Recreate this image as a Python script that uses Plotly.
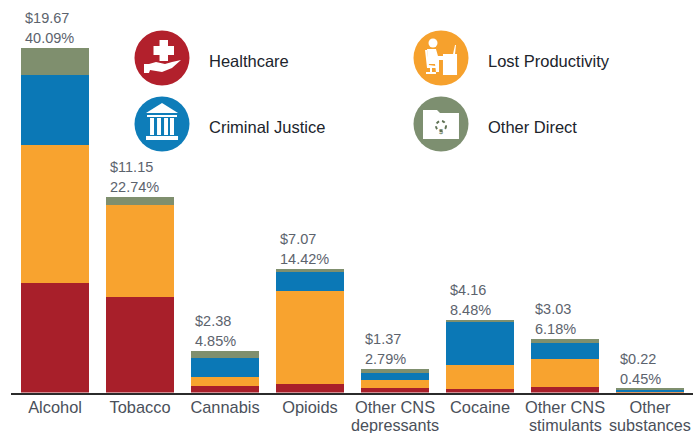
import plotly.graph_objects as go

# Societal cost by substance, billions of dollars, split by cost type
substances = ["Alcohol", "Tobacco", "Cannabis", "Opioids", "Other CNS depressants",
              "Cocaine", "Other CNS stimulants", "Other substances"]
tick_labels = ["Alcohol", "Tobacco", "Cannabis", "Opioids", "Other CNS",
               "Cocaine", "Other CNS", "Other"]
tick_second_lines = ["", "", "", "", "depressants", "", "stimulants", "substances"]
healthcare = [6.26, 5.44, 0.37, 0.49, 0.24, 0.18, 0.33, 0.02]
lost_productivity = [7.89, 5.27, 0.50, 5.31, 0.47, 1.39, 1.57, 0.03]
criminal_justice = [4.00, 0.00, 1.09, 1.10, 0.38, 2.49, 0.95, 0.12]
other_direct = [1.52, 0.44, 0.42, 0.17, 0.28, 0.10, 0.18, 0.05]
total_labels = ["$19.67", "$11.15", "$2.38", "$7.07", "$1.37", "$4.16", "$3.03", "$0.22"]
share_labels = ["40.09%", "22.74%", "4.85%", "14.42%", "2.79%", "8.48%", "6.18%", "0.45%"]
totals = [19.67, 11.15, 2.38, 7.07, 1.37, 4.16, 3.03, 0.22]

RED, ORANGE, BLUE, GREEN = "#A81F2A", "#F8A32F", "#0B78B6", "#7F8F6E"
W, H = 693, 433
FONT = "Liberation Sans, Arial, sans-serif"
LABEL_GREY = "#5C636D"
TICK_GREY = "#4A505A"

fig = go.Figure()
for name, values, color in [("Healthcare", healthcare, RED),
                            ("Lost Productivity", lost_productivity, ORANGE),
                            ("Criminal Justice", criminal_justice, BLUE),
                            ("Other Direct", other_direct, GREEN)]:
    fig.add_bar(x=substances, y=values, name=name, marker=dict(color=color, line_width=0),
                width=0.8, showlegend=False, hoverinfo="x+y+name")


# Helpers for the key icons, given in page pixels
def px_x(x):
    return x / W


def px_y(y):
    return 1 - y / H


annotations = []
for i, cat in enumerate(substances):
    for text, lift in ((share_labels[i], 0), (total_labels[i], 20)):
        annotations.append(dict(x=i - 0.4, y=totals[i], xref="x", yref="y", text=text, showarrow=False,
                                xanchor="left", yanchor="bottom", xshift=2, yshift=lift,
                                font=dict(family=FONT, size=14.5, color=LABEL_GREY)))
    # Second lines of the long category names sit closer than the axis line spacing allows
    if tick_second_lines[i]:
        annotations.append(dict(x=cat, y=px_y(424.5), xref="x", yref="paper", text=tick_second_lines[i],
                                showarrow=False, yanchor="middle",
                                font=dict(family=FONT, size=16.2, color=TICK_GREY)))


def poly(points, fill="white"):
    path = "M" + " L".join(f"{px_x(x):.4f},{px_y(y):.4f}" for x, y in points) + " Z"
    return dict(type="path", xref="paper", yref="paper", path=path,
                fillcolor=fill, line_width=0, layer="above")


def disc(cx, cy, r, fill="white", line=None, dash="solid", width=1.2):
    return dict(type="circle", xref="paper", yref="paper", x0=px_x(cx - r), x1=px_x(cx + r),
                y0=px_y(cy + r), y1=px_y(cy - r), fillcolor=fill, layer="above",
                line=dict(width=width if line else 0, color=line or fill, dash=dash))


def box(x0, y0, x1, y1, fill="white"):
    return poly([(x0, y0), (x1, y0), (x1, y1), (x0, y1)], fill)


shapes = []
for cx, cy, color, label in [(162, 58, "#B2202C", "Healthcare"), (162, 124, "#0E7DB9", "Criminal Justice"),
                             (441, 58, "#F6A12D", "Lost Productivity"), (441, 124, "#7D8F70", "Other Direct")]:
    shapes.append(disc(cx, cy, 27.5, color))
    annotations.append(dict(x=px_x(cx + 45), y=px_y(cy + 3), xref="paper", yref="paper", text=label,
                            showarrow=False, xanchor="left", yanchor="middle",
                            font=dict(family=FONT, size=16.5, color="#20242C")))

# Healthcare: cross over an open hand
shapes += [box(153.5, 46, 174, 55), box(159.5, 40, 168, 61)]
shapes.append(poly([(144, 64), (149, 64), (156, 62), (165, 64), (172, 62), (181, 60),
                    (172, 68), (162, 72), (150, 70), (149, 73), (144, 73)]))
# Criminal justice: columned building
shapes.append(poly([(162, 103), (178, 113), (146, 113)]))
shapes += [box(147, 115, 177, 117), box(146, 136, 178, 140)]
shapes += [box(x, 118, x + 4, 135) for x in (150, 157, 164, 170)]
# Lost productivity: figure seated at a desk
shapes.append(disc(433, 43, 4.5))
shapes.append(poly([(427, 49), (436, 49), (438, 56), (445, 56), (445, 60), (439, 60), (439, 72),
                    (436, 72), (435, 64), (428, 64)]))
shapes.append(poly([(425, 50), (427, 50), (429, 65), (436, 66), (436, 68), (427, 68)]))
shapes.append(box(430, 68, 432, 72))
shapes.append(box(426, 72, 436, 74))
shapes.append(box(443, 54, 457, 75))
shapes.append(poly([(453, 54), (455, 45), (456, 45), (455, 54)]))
# Other direct: folder with a small gear
shapes.append(poly([(423, 110), (437, 110), (440, 113), (459, 113), (459, 139), (423, 139)]))
shapes.append(disc(441, 126, 5, "white", "#5F7254", dash="dot", width=2))
annotations.append(dict(x=px_x(441), y=px_y(126), xref="paper", yref="paper", text="$", showarrow=False,
                        font=dict(family=FONT, size=7, color="#5F7254")))

BAR_STEP = 85
FIRST_CENTRE = 55
fig.update_layout(
    barmode="stack", width=W, height=H, margin=dict(l=0, r=0, t=0, b=0),
    paper_bgcolor="white", plot_bgcolor="white", showlegend=False,
    annotations=annotations, shapes=shapes,
    xaxis=dict(domain=[11 / W, 1], type="category", categoryorder="array", categoryarray=substances,
               range=[(11 - FIRST_CENTRE) / BAR_STEP, (W - FIRST_CENTRE) / BAR_STEP],
               tickmode="array", tickvals=substances, ticktext=tick_labels,
               showline=True, linecolor="#2B2B2B", linewidth=2, showgrid=False,
               automargin=False, ticks="", tickangle=0, ticklabelstandoff=-1,
               tickfont=dict(family=FONT, size=16.4, color=TICK_GREY)),
    yaxis=dict(domain=[40.5 / H, 1], range=[0, 392.5 / 17.5], visible=False, automargin=False),
)

fig.write_html("out.html", config=dict(displayModeBar=False))
